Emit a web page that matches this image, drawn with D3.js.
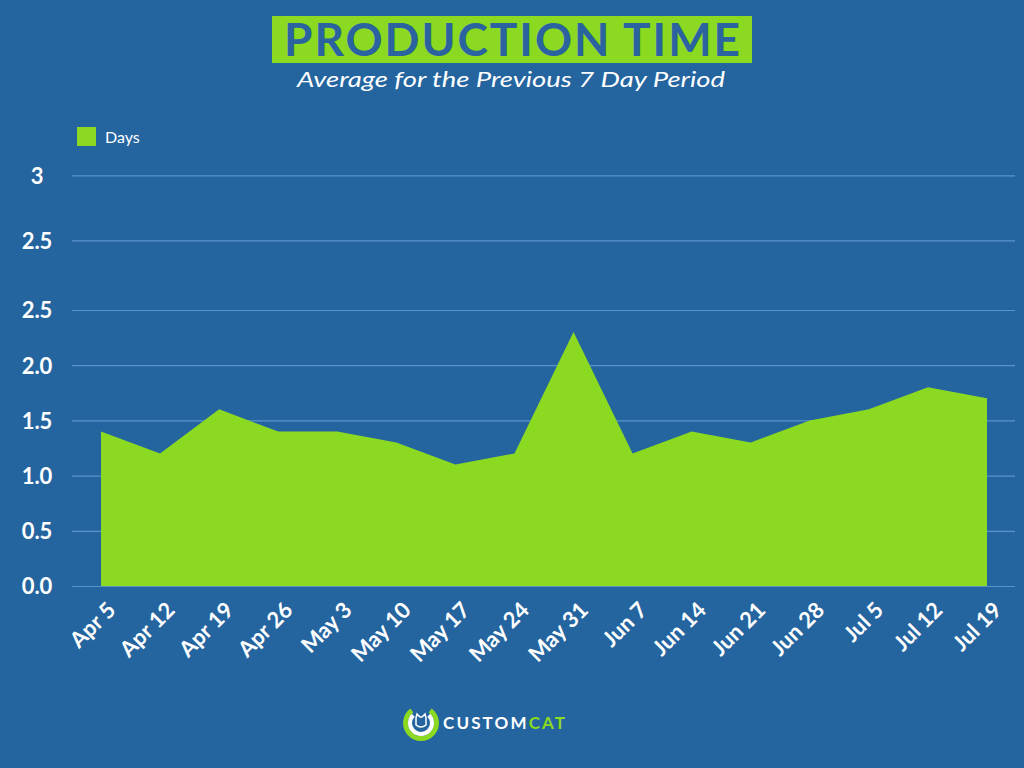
<!DOCTYPE html>
<html>
<head>
<meta charset="utf-8">
<script src="https://cdn.jsdelivr.net/npm/d3@7"></script>
<style>
  html, body { margin: 0; padding: 0; background: #2465a0; }
  svg { display: block; }
</style>
</head>
<body>
<div id="chart"></div>
<script>
// chart data
const weeks = ["Apr 5", "Apr 12", "Apr 19", "Apr 26", "May 3", "May 10", "May 17", "May 24",
               "May 31", "Jun 7", "Jun 14", "Jun 21", "Jun 28", "Jul 5", "Jul 12", "Jul 19"];
const days = [1.4, 1.2, 1.6, 1.4, 1.4, 1.3, 1.1, 1.2, 2.3, 1.2, 1.4, 1.3, 1.5, 1.6, 1.8, 1.7];
// the picture's y axis repeats "2.5" above the real 2.5 line
const yGrid = [0, 0.5, 1, 1.5, 2, 2.5, 3.13, 3.72];
const yLabels = ["0.0", "0.5", "1.0", "1.5", "2.0", "2.5", "2.5", "3"];

const W = 1024, H = 768;
const green = "#8bd921";
const bg = "#2465a0";

const svg = d3.select("#chart").append("svg")
  .attr("width", W).attr("height", H);

svg.append("rect").attr("width", W).attr("height", H).attr("fill", bg);

// title block
svg.append("rect")
  .attr("x", 272).attr("y", 16).attr("width", 480).attr("height", 47)
  .attr("fill", green);
svg.append("text")
  .attr("x", 284).attr("y", 56)
  .attr("textLength", 456).attr("lengthAdjust", "spacing")
  .style("font-family", "Lato, sans-serif")
  .style("font-weight", "bold").style("font-size", "46px")
  .attr("fill", "#2a63a0")
  .text("PRODUCTION TIME");
svg.append("text")
  .attr("x", 297).attr("y", 87)
  .attr("textLength", 428).attr("lengthAdjust", "spacingAndGlyphs")
  .style("font-family", "Lato, sans-serif")
  .style("font-style", "italic").style("font-size", "22px")
  .attr("fill", "#fff")
  .text("Average for the Previous 7 Day Period");

// legend
svg.append("rect").attr("x", 77).attr("y", 127).attr("width", 19).attr("height", 19).attr("fill", green);
svg.append("text").attr("x", 105).attr("y", 143)
  .style("font-family", "Lato, sans-serif").style("font-size", "16px")
  .attr("fill", "#fff").text("Days");

// scales
const x = d3.scalePoint().domain(weeks).range([101, 987]);
const y = d3.scaleLinear().domain([0, 2.5]).range([586, 310]);

const left = 72, right = 1015;

// y axis with grid
const yAxis = svg.append("g")
  .attr("transform", `translate(${left},0)`)
  .call(d3.axisLeft(y).tickValues(yGrid).tickSize(-(right - left))
    .tickFormat((d, i) => yLabels[i]));
yAxis.select(".domain").remove();
yAxis.selectAll(".tick line").attr("stroke", "#5a93c9").attr("stroke-width", 1.2);
yAxis.selectAll(".tick text")
  .attr("x", -35).attr("dy", "0.36em")
  .attr("text-anchor", "middle")
  .attr("fill", "#fff")
  .style("font-family", "Lato, sans-serif")
  .style("font-weight", "bold").style("font-size", "22px");

// area
const area = d3.area()
  .x((d, i) => x(weeks[i]))
  .y0(y(0))
  .y1(d => y(d));
svg.append("path").datum(days)
  .attr("d", area)
  .attr("fill", green);

// x axis labels
const xAxis = svg.append("g")
  .attr("transform", `translate(0,${y(0)})`)
  .call(d3.axisBottom(x).tickSize(0));
xAxis.select(".domain").remove();
xAxis.selectAll(".tick text")
  .attr("text-anchor", "end")
  .attr("transform", "translate(10,20) rotate(-45)")
  .attr("x", 0).attr("y", 0).attr("dy", "0.35em")
  .attr("fill", "#fff")
  .style("font-family", "Lato, sans-serif")
  .style("font-weight", "bold").style("font-size", "22px");

// logo
const logo = svg.append("g").attr("transform", "translate(421,723)");
const arcGen = d3.arc();
logo.append("path")
  .attr("d", arcGen({innerRadius: 13, outerRadius: 18, startAngle: Math.PI * 0.2, endAngle: Math.PI * 1.8}))
  .attr("fill", green);
logo.append("path")
  .attr("d", arcGen({innerRadius: 9, outerRadius: 13, startAngle: Math.PI * 0.25, endAngle: Math.PI * 1.75}))
  .attr("fill", "#fff");
logo.append("path")
  .attr("d", "M-5,-5 L-4,-9 L-1,-6 L1,-6 L4,-9 L5,-5 L5,2 Q0,6 -5,2 Z")
  .attr("fill", "none").attr("stroke", "#fff").attr("stroke-width", 1.5);

const brand = svg.append("text")
  .attr("x", 443).attr("y", 729)
  .attr("textLength", 122).attr("lengthAdjust", "spacing")
  .style("font-family", "Lato, sans-serif")
  .style("font-weight", "bold").style("font-size", "17px");
brand.append("tspan").attr("fill", "#fff").text("CUSTOM");
brand.append("tspan").attr("fill", green).text("CAT");
</script>
</body>
</html>
